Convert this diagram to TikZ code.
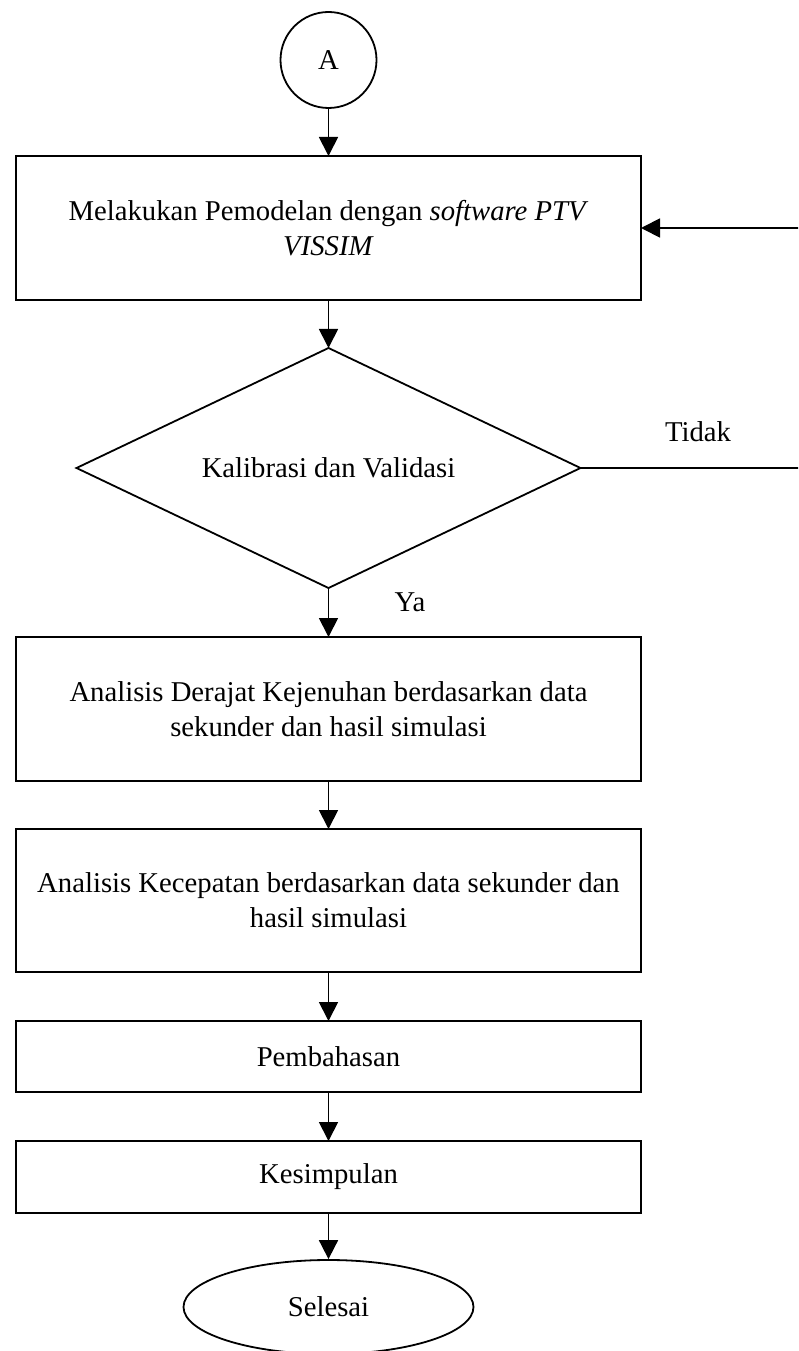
\documentclass[tikz,border=0pt]{standalone}
\usepackage{fontspec}
\setmainfont{Liberation Serif}
\usetikzlibrary{shapes.geometric,arrows.meta}
\begin{document}
\begin{tikzpicture}[x=1pt,y=-1pt,
  every node/.style={font=\fontsize{28.7}{35}\selectfont, align=center},
  proc/.style={draw, line width=1.8pt, minimum width=625pt, inner sep=0pt, outer sep=0pt},
  flow/.style={line width=1.8pt, -{Triangle[length=19pt,width=19pt]}},
  link/.style={line width=1.8pt}]
\useasboundingbox (0,0) rectangle (798,1351);
\clip (0,0) rectangle (798,1351);
\fill[white] (0,0) rectangle (798,1351);

% start connector and process steps
\node[draw, circle, line width=1.8pt, minimum size=96pt, inner sep=0pt] (A) at (328.5,60) {A};
\node[proc, minimum height=144pt] (model) at (328.5,228)
  {Melakukan Pemodelan dengan \textit{software PTV}\\\textit{VISSIM}};
\node[draw, diamond, aspect=2.1, line width=1.8pt, minimum width=504pt, minimum height=240pt, inner sep=0pt, outer sep=0pt] (cal) at (328.5,468)
  {Kalibrasi dan Validasi};
\node[proc, minimum height=144pt] (ds) at (328.5,709)
  {Analisis Derajat Kejenuhan berdasarkan data\\sekunder dan hasil simulasi};
\node[proc, minimum height=143pt] (speed) at (328.5,900.5)
  {Analisis Kecepatan berdasarkan data sekunder dan\\hasil simulasi};
\node[proc, minimum height=71pt] (disc) at (328.5,1056.5) {Pembahasan};
\node[proc, minimum height=72pt] (concl) at (328.5,1177) {Kesimpulan};
\node[draw, ellipse, line width=1.8pt, minimum width=290pt, minimum height=94pt, inner sep=0pt] (end) at (328.5,1307) {Selesai};

% decision labels
\node (no) at (698,432) {Tidak};
\node (yes) at (410,602) {Ya};

% main flow
\draw[flow] (A) -- (model);
\draw[flow] (model) -- (cal);
\draw[flow] (cal) -- (ds);
\draw[flow] (ds) -- (speed);
\draw[flow] (speed) -- (disc);
\draw[flow] (disc) -- (concl);
\draw[flow] (concl) -- (end);

% loop back when calibration fails
\coordinate (loopB) at (806,468);
\coordinate (loopT) at (806,228);
\draw[link] (cal.east) -- (loopB) -- (loopT);
\draw[flow] (loopT) -- (model.east);
\end{tikzpicture}
\end{document}
